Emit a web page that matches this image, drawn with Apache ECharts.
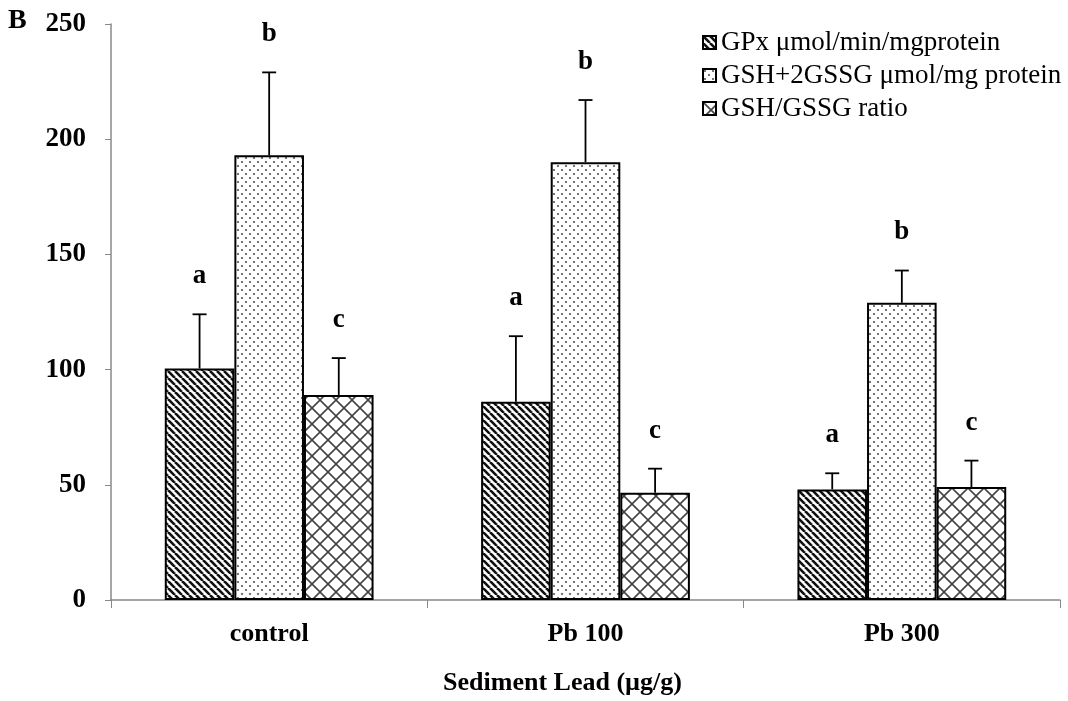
<!DOCTYPE html>
<html>
<head>
<meta charset="utf-8">
<script src="https://cdn.jsdelivr.net/npm/echarts@6/dist/echarts.min.js"></script>
<style>
  html, body { margin: 0; padding: 0; background: #fff; }
  #chart { width: 1068px; height: 701px; }
</style>
</head>
<body>
<div id="chart"></div>
<script>
const categories = ['control', 'Pb 100', 'Pb 300'];
const seriesNames = ['GPx μmol/min/mgprotein', 'GSH+2GSSG μmol/mg protein', 'GSH/GSSG ratio'];
const gpx = [100.5, 86, 48];
const gpxErr = [23.5, 28.5, 7];
const gsh = [193, 190, 129];
const gshErr = [36, 27, 14];
const ratio = [89, 46.5, 49];
const ratioErr = [16, 10.5, 11.5];
const letters = ['a', 'b', 'c'];
const yTicks = [0, 50, 100, 150, 200, 250];

const FONT = '"Liberation Serif", "Times New Roman", serif';

function makePattern(size, draw) {
  const c = document.createElement('canvas');
  c.width = size; c.height = size;
  const ctx = c.getContext('2d');
  ctx.fillStyle = '#fff';
  ctx.fillRect(0, 0, size, size);
  draw(ctx, size);
  return { image: c, repeat: 'repeat' };
}

// diagonal "\" stripes
const stripes = makePattern(7, (ctx, s) => {
  ctx.strokeStyle = '#111';
  ctx.lineWidth = 2.6;
  for (let k = -1; k <= 1; k++) {
    ctx.beginPath();
    ctx.moveTo(k * s, 0);
    ctx.lineTo(k * s + s, s);
    ctx.stroke();
  }
});
// staggered dots
const dots = makePattern(8, (ctx) => {
  ctx.fillStyle = '#555';
  ctx.beginPath(); ctx.arc(2, 2, 1.1, 0, Math.PI * 2); ctx.fill();
  ctx.beginPath(); ctx.arc(6, 6, 1.1, 0, Math.PI * 2); ctx.fill();
});
// crosshatch (diamonds)
const cross = makePattern(16, (ctx, s) => {
  ctx.strokeStyle = '#444';
  ctx.lineWidth = 1.6;
  for (let k = -1; k <= 1; k++) {
    ctx.beginPath(); ctx.moveTo(k * s, 0); ctx.lineTo(k * s + s, s); ctx.stroke();
    ctx.beginPath(); ctx.moveTo(k * s + s, 0); ctx.lineTo(k * s, s); ctx.stroke();
  }
});
const patterns = [stripes, dots, cross];

const means = [gpx, gsh, ratio];
const errs = [gpxErr, gshErr, ratioErr];

const errData = [];
for (let s = 0; s < 3; s++) {
  for (let i = 0; i < categories.length; i++) {
    errData.push([i, means[s][i], means[s][i] + errs[s][i], s]);
  }
}

const chart = echarts.init(document.getElementById('chart'));

const barSeries = seriesNames.map((name, s) => ({
  name: name,
  type: 'bar',
  data: means[s],
  barGap: '0%',
  barCategoryGap: '34%',
  itemStyle: { color: patterns[s], borderColor: '#000', borderWidth: 2 },
  emphasis: { disabled: true },
  z: 2
}));

chart.setOption({
  animation: false,
  backgroundColor: '#fff',
  graphic: [{
    type: 'text', left: 8, top: 7,
    style: { text: 'B', font: 'bold 28px ' + FONT, fill: '#000' }
  }],
  legend: {
    orient: 'vertical',
    left: 697,
    top: 24,
    itemWidth: 13,
    itemHeight: 13,
    itemGap: 6,
    icon: 'rect',
    selectedMode: false,
    textStyle: { fontFamily: FONT, fontSize: 27, color: '#000' },
    data: seriesNames
  },
  grid: { left: 111, right: 8, top: 24, bottom: 101 },
  xAxis: {
    type: 'category',
    data: categories,
    name: 'Sediment Lead (µg/g)',
    nameLocation: 'middle',
    nameGap: 70,
    nameTextStyle: {
      fontFamily: FONT, fontSize: 26, fontWeight: 'bold', color: '#000',
      padding: [0, 46, 0, 0]
    },
    axisLine: { lineStyle: { color: '#888', width: 1.5 } },
    axisTick: { show: true, length: 8, lineStyle: { color: '#888' } },
    axisLabel: { fontFamily: FONT, fontSize: 26, fontWeight: 'bold', color: '#000', margin: 21 }
  },
  yAxis: {
    type: 'value',
    min: 0,
    max: 250,
    interval: 50,
    axisLine: { show: true, lineStyle: { color: '#888', width: 1.5 } },
    axisTick: { show: true, length: 6, lineStyle: { color: '#888' } },
    splitLine: { show: false },
    axisLabel: {
      fontFamily: FONT, fontSize: 27, fontWeight: 'bold', color: '#000', margin: 25,
      formatter: v => yTicks.includes(v) ? String(v) : ''
    }
  },
  series: barSeries.concat([{
    type: 'custom',
    data: errData,
    silent: true,
    z: 5,
    renderItem: function (params, api) {
      const cat = api.value(0);
      const s = api.value(3);
      const band = api.size([1, 0])[0];
      const bw = band * 0.66 / 3;
      const center = api.coord([cat, 0])[0];
      const x = center - 1.5 * bw + bw * (s + 0.5);
      const yMean = api.coord([cat, api.value(1)])[1];
      const yTop = api.coord([cat, api.value(2)])[1];
      const cap = 7;
      return {
        type: 'group',
        children: [
          { type: 'line', shape: { x1: x, y1: yMean, x2: x, y2: yTop }, style: { stroke: '#000', lineWidth: 1.8 } },
          { type: 'line', shape: { x1: x - cap, y1: yTop, x2: x + cap, y2: yTop }, style: { stroke: '#000', lineWidth: 1.8 } },
          { type: 'text', x: x, y: yTop - 38,
            style: { text: letters[s], font: 'bold 27px ' + FONT, fill: '#000', align: 'center', verticalAlign: 'middle' } }
        ]
      };
    }
  }])
});
</script>
</body>
</html>
